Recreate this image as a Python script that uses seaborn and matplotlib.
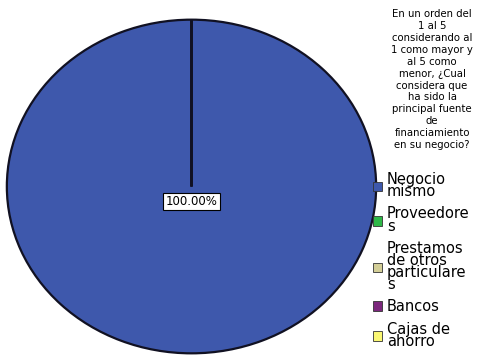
import matplotlib
matplotlib.use("Agg")
import matplotlib.pyplot as plt
import seaborn as sns

categories = ["Negocio\nmismo", "Proveedore\ns", "Prestamos\nde otros\nparticulare\ns", "Bancos", "Cajas de\nahorro"]
values = [100.0, 0.0, 0.0, 0.0, 0.0]
colors = ["#3E58AC", "#2EB848", "#D3CE97", "#7C287D", "#FBF873"]
legend_title = ("En un orden del\n1 al 5\nconsiderando al\n1 como mayor y\nal 5 como\nmenor, ¿Cual\n"
                "considera que\nha sido la\nprincipal fuente\nde\nfinanciamiento\nen su negocio?")

sns.set_theme(style="white")
plt.rcParams["font.family"] = ["DejaVu Sans"]

fig = plt.figure(figsize=(4.94, 3.62), dpi=100)
ax = fig.add_axes([5/494, 7/362, 373/494, 337/362])

def fmt(p):
    return f"{p:.2f}%" if p > 0 else ""

wedges, texts, autotexts = ax.pie(
    values, colors=sns.color_palette(colors), startangle=90, counterclock=False,
    autopct=fmt, pctdistance=0.09,
    wedgeprops=dict(edgecolor="#111122", linewidth=1.6),
    textprops=dict(fontsize=8.5, color="black"),
)
for t in autotexts:
    t.set_bbox(dict(boxstyle="square,pad=0.2", facecolor="white", edgecolor="black", linewidth=0.8))
ax.set_aspect("auto")
ax.set_xlim(-1.01, 1.01)
ax.set_ylim(-1.01, 1.01)
ax.axis("off")

fig.text(432/494, 1 - 9/362, legend_title, ha="center", va="top", fontsize=7.3,
         linespacing=1.24, color="black")

leg = fig.legend(wedges, categories, loc="upper left", bbox_to_anchor=(373/494, 1 - 172/362),
                 frameon=False, fontsize=10.5, handlelength=0.65, handleheight=0.65,
                 handletextpad=0.3, labelspacing=0.5, borderaxespad=0, borderpad=0,
                 labelcolor="black")
for t in leg.get_texts():
    t.set_linespacing(0.76)
for h in leg.legend_handles:
    h.set_edgecolor("#333333")
    h.set_linewidth(0.6)

fig.savefig("out.png", dpi=100)
